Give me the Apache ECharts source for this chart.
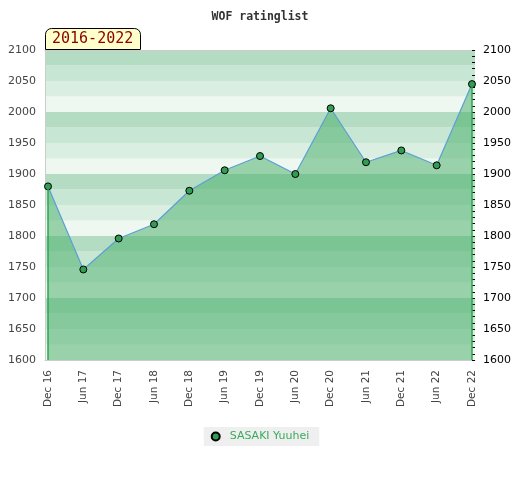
<!DOCTYPE html>
<html>
<head>
<meta charset="utf-8">
<script src="https://cdn.jsdelivr.net/npm/echarts@6/dist/echarts.min.js"></script>
<style>
  html, body { margin: 0; padding: 0; background: #fff; }
  #chart { width: 520px; height: 480px; }
</style>
</head>
<body>
<div id="chart"></div>
<script>
var categories = ['Dec 16', 'Jun 17', 'Dec 17', 'Jun 18', 'Dec 18', 'Jun 19', 'Dec 19',
                  'Jun 20', 'Dec 20', 'Jun 21', 'Dec 21', 'Jun 22', 'Dec 22'];
var ratings = [1880, 1746, 1796, 1819, 1873, 1906, 1929, 1900, 2006, 1919, 1938, 1914, 2045];
var playerName = 'SASAKI Yuuhei';
var periodLabel = '2016-2022';
var yMin = 1600, yMax = 2100, yStep = 50, bandStep = 25;
var bandColors = ['#eff7f1', '#dbeee2', '#c8e6d4', '#b3dcc3'];

var last = ratings.length - 1;
var points = ratings.map(function (v, i) { return [i, v]; });
var tickIdx = categories.map(function (c, i) { return i; });

// labels only every 50, bands every 25
function yLabel(v) {
  return v % yStep === 0 ? String(v) : '';
}

var chart = echarts.init(document.getElementById('chart'));
chart.setOption({
  animation: false,
  textStyle: { fontFamily: 'DejaVu Sans' },
  title: [
    {
      text: 'WOF ratinglist',
      left: 'center',
      top: 6,
      textStyle: { fontFamily: 'DejaVu Sans Mono', fontWeight: 'bold', fontSize: 11.5, color: '#333' }
    },
    {
      text: periodLabel,
      left: 45,
      top: 28,
      padding: [3, 7, 2, 7],
      backgroundColor: '#ffffcc',
      borderColor: '#000',
      borderWidth: 1,
      borderRadius: [6, 6, 0, 0],
      textStyle: { fontFamily: 'DejaVu Sans Mono', fontWeight: 'normal', fontSize: 15, lineHeight: 17, color: '#8b0000' }
    }
  ],
  legend: {
    bottom: 34,
    left: 'center',
    icon: 'circle',
    itemWidth: 8,
    itemHeight: 8,
    padding: [4, 10, 4, 7],
    backgroundColor: '#efefef',
    textStyle: { color: '#3aaa5c', fontSize: 11, padding: [0, 0, 0, 5] },
    data: [playerName]
  },
  grid: { left: 45, right: 45, top: 50, bottom: 120 },
  xAxis: [
    {
      type: 'value',
      min: -0.085,
      max: last + 0.085,
      axisLine: { show: true, onZero: false, lineStyle: { color: '#cccccc' } },
      axisTick: { show: false },
      splitLine: { show: false },
      axisLabel: {
        customValues: tickIdx,
        rotate: 90,
        margin: 10,
        fontSize: 10.5,
        color: '#444',
        formatter: function (v) { return categories[v]; }
      }
    },
    {
      type: 'value',
      position: 'top',
      min: -0.085,
      max: last + 0.085,
      axisLine: { show: true, onZero: false, lineStyle: { color: '#cccccc' } },
      axisTick: { show: false },
      axisLabel: { show: false },
      splitLine: { show: false }
    }
  ],
  yAxis: [
    {
      type: 'value',
      position: 'left',
      min: yMin,
      max: yMax,
      interval: bandStep,
      axisLine: { show: true, onZero: false, lineStyle: { color: '#cccccc' } },
      axisTick: { show: false },
      splitLine: { show: false },
      splitArea: { show: true, areaStyle: { color: bandColors } },
      axisLabel: { color: '#444', fontSize: 11, margin: 9, formatter: yLabel }
    },
    {
      type: 'value',
      position: 'right',
      min: yMin,
      max: yMax,
      interval: yStep,
      axisLine: { show: false, onZero: false },
      axisTick: { show: true, inside: true, length: 3, lineStyle: { color: '#000' } },
      minorTick: { show: true, splitNumber: 5, length: 3, lineStyle: { color: '#000' } },
      splitLine: { show: false },
      axisLabel: { color: '#000', fontSize: 11, margin: 8, formatter: yLabel }
    }
  ],
  series: [
    {
      name: playerName,
      type: 'line',
      data: points,
      xAxisIndex: 0,
      yAxisIndex: 0,
      symbol: 'circle',
      symbolSize: 7,
      itemStyle: { color: '#349c52', borderColor: '#000', borderWidth: 1 },
      lineStyle: { color: '#5b9fd6', width: 1.2 },
      areaStyle: { color: '#44ac65', opacity: 0.5, origin: 'start' },
      markLine: {
        silent: true,
        symbol: 'none',
        label: { show: false },
        lineStyle: { color: '#2ea44f', width: 1.5, type: 'solid' },
        data: [
          [{ coord: [0, ratings[0]] }, { coord: [0, yMin] }],
          [{ coord: [last, ratings[last]] }, { coord: [last, yMin] }]
        ]
      },
      z: 3
    }
  ]
});
</script>
</body>
</html>
